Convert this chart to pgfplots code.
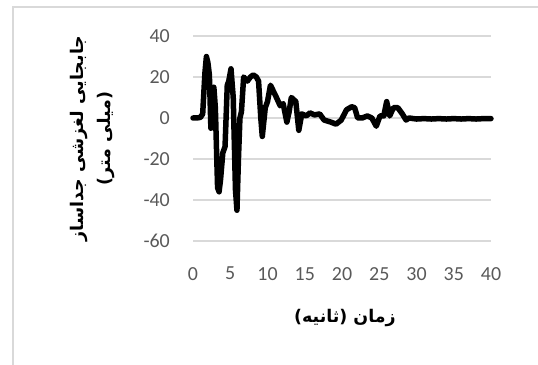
\documentclass[border=0pt]{standalone}
\usepackage{pgfplots}
\pgfplotsset{compat=1.18}
\usepackage{fontspec}
\setmainfont{Carlito}
\newfontfamily\arabicfont[Script=Arabic]{DejaVu Sans}
\TeXXeTstate=1
\definecolor{gridgray}{HTML}{D9D9D9}
\definecolor{ticktext}{HTML}{595959}

\begin{document}
\begin{tikzpicture}
\path[use as bounding box] (0,0) rectangle (538bp,365bp);
% chart area border
\draw[gridgray, line width=1.2bp] (13bp,0) -- (13bp,358bp) -- (538bp,358bp);
\begin{axis}[
  at={(193bp,124bp)}, anchor=south west,
  scale only axis, width=298bp, height=205bp,
  xmin=0, xmax=40, ymin=-60, ymax=40,
  xtick={0,5,...,40}, ytick={-60,-40,...,40},
  ymajorgrids, grid style={gridgray, line width=1.2bp},
  axis line style={draw=none}, major tick length=0pt,
  tick label style={font=\fontsize{20}{24}\selectfont, text=ticktext, inner sep=0pt},
  /pgf/number format/assume math mode=true,
  yticklabel style={anchor=east, xshift=-23bp},
  xticklabel style={anchor=north, yshift=-26bp},
  xlabel={\arabicfont\bfseries\beginR زمان (ثانیه)\endR},
  xlabel style={at={(rel axis cs:0.51,-0.376)}, anchor=center, font=\fontsize{17.5}{21}\selectfont},
  ylabel={\arabicfont\bfseries\beginR جابجایی لغزشی جداساز\endR\\\arabicfont\bfseries\beginR (میلی متر)\endR},
  ylabel style={at={(rel axis cs:-0.336,0.5)}, anchor=center, align=center, font=\fontsize{17.5}{27}\selectfont},
  clip=false,
]
\addplot[black, line width=5.5bp, line join=round, line cap=round] coordinates {
(0,0) (0.5,0) (1.0,0.3) (1.3,2) (1.6,22) (1.8,30) (2.0,27) (2.2,21) (2.4,-5) (2.6,5) (2.8,15)
(3.0,5) (3.3,-34) (3.5,-36) (3.7,-30) (4.0,-17) (4.3,-14) (4.6,16) (4.8,18) (5.1,24)
(5.4,10) (5.7,-35) (5.9,-45) (6.1,-20) (6.3,0) (6.5,3) (6.8,20) (7.3,18) (7.7,20)
(8.1,21) (8.5,20) (8.8,18) (9.1,0) (9.3,-9) (9.7,5) (10.0,8) (10.4,16) (10.8,13)
(11.2,10) (11.7,6) (12.1,7) (12.6,-2) (12.9,3) (13.2,10) (13.8,8) (14.2,-6) (14.6,2)
(15.2,1) (15.7,2.5) (16.3,1.5) (17.0,2) (17.6,-1) (18.5,-2) (19.2,-3) (19.9,-1)
(20.6,4) (21.3,5.5) (21.7,5) (22.1,0) (22.7,0) (23.4,1) (24.0,0) (24.6,-4) (25.1,1)
(25.6,1) (26.0,8) (26.4,1) (26.9,5) (27.5,5) (28.1,2) (28.6,-1) (29.0,0) (30,-0.5)
(31,-0.3) (32,-0.5) (33,-0.3) (34,-0.5) (35,-0.3) (36,-0.5) (37,-0.3) (38,-0.5) (39,-0.3) (40,-0.3)
};
\end{axis}
\end{tikzpicture}
\end{document}
